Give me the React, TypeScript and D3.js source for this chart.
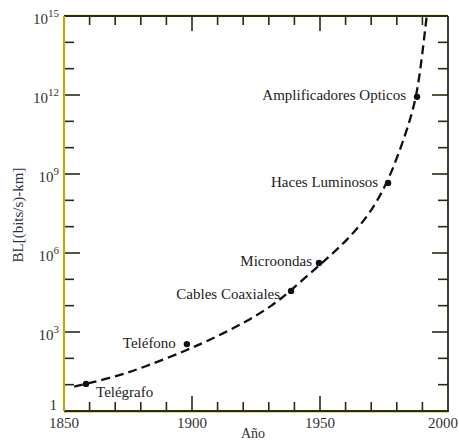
import React from "react";
import * as d3 from "d3";

const curveYears = [1854, 1868, 1881, 1897.9, 1909.6, 1921.4, 1931.8, 1938.3, 1948.7, 1956.5, 1963, 1969.5, 1976, 1981.3, 1985.2, 1987.8, 1989.7, 1991.2, 1991.7];
const curveExps = [0.93, 1.24, 1.65, 2.3, 2.82, 3.4, 4.03, 4.55, 5.45, 6.11, 6.75, 7.5, 8.6, 9.91, 11.05, 12, 13.33, 14.6, 15];

const pointNames = ["Telégrafo", "Teléfono", "Cables Coaxiales", "Microondas", "Haces Luminosos", "Amplificadores Opticos"];
const pointYears = [1858.6, 1898, 1938.7, 1949.6, 1976.6, 1987.9];
const pointExps = [1.03, 2.54, 4.56, 5.62, 8.66, 11.93];
const labelSide = ["right", "left", "left", "left", "left", "left"];
const labelGap = [10, 11, 11, 7, 10, 11];
const labelDy = [13, 4, 8, 3, 4, 3];

const xTicks = [1850, 1900, 1950, 2000];
const yTickExps = [0, 3, 6, 9, 12, 15];

const W = 459, H = 443;
const L = 64, R = 448, T = 16, B = 411;

export default function App() {
  const x = d3.scaleLinear().domain([1850, 2000]).range([L, R]);
  const y = d3.scaleLinear().domain([0, 15]).range([B, T]);
  const line = d3.line<number>()
    .x((_, i) => x(curveYears[i]))
    .y((d) => y(d))
    .curve(d3.curveBasis);
  const minorX = d3.range(1850, 2001, 10);
  const minorY = d3.range(0, 16, 1);
  const font = "'Liberation Serif', 'Times New Roman', serif";
  const axisDark = "#2b2a14";
  return (
    <svg width={W} height={H} style={{ position: "absolute", left: 0, top: 0, background: "#fff" }} fontFamily={font}>
      {minorX.map((v) => {
        const major = v % 50 === 0;
        const len = major ? 15 : 9;
        if (v === 1850 || v === 2000) return null;
        return (
          <g key={"xt" + v} stroke={axisDark} strokeWidth={1.6}>
            <line x1={x(v)} x2={x(v)} y1={B} y2={B - len} />
            <line x1={x(v)} x2={x(v)} y1={T} y2={T + len} />
          </g>
        );
      })}
      {minorY.map((v) => {
        const major = v % 3 === 0;
        const len = major ? 16 : 10;
        if (v === 0 || v === 15) return null;
        return (
          <g key={"yt" + v} stroke={axisDark} strokeWidth={1.6}>
            <line x1={L} x2={L + len} y1={y(v)} y2={y(v)} />
            <line x1={R} x2={R - len} y1={y(v)} y2={y(v)} />
          </g>
        );
      })}
      <line x1={L} x2={R} y1={T - 1} y2={T - 1} stroke="#e6e27a" strokeWidth={1} />
      <line x1={L} x2={R} y1={T} y2={T} stroke={axisDark} strokeWidth={1.8} />
      <line x1={L} x2={R + 1} y1={B} y2={B} stroke={axisDark} strokeWidth={1.8} />
      <line x1={L} x2={R} y1={B + 1.5} y2={B + 1.5} stroke="#dedc70" strokeWidth={1} />
      <line x1={R} x2={R} y1={T} y2={B} stroke={axisDark} strokeWidth={1.8} />
      <line x1={L} x2={L} y1={T} y2={B} stroke="#b3ad12" strokeWidth={2.2} />

      <path d={line(curveExps) || ""} fill="none" stroke="#111" strokeWidth={2.3} strokeDasharray="9 5" />

      {pointYears.map((yr, i) => (
        <g key={"p" + i}>
          <circle cx={x(yr)} cy={y(pointExps[i])} r={3.2} fill="#111" />
          <text
            x={labelSide[i] === "right" ? x(yr) + labelGap[i] : x(yr) - labelGap[i]}
            y={y(pointExps[i]) + labelDy[i]}
            textAnchor={labelSide[i] === "right" ? "start" : "end"}
            fontSize={15}
            fill="#222"
          >
            {pointNames[i]}
          </text>
        </g>
      ))}

      {xTicks.map((v, i) => (
        <text
          key={"xl" + v}
          x={i === xTicks.length - 1 ? W - 1 : x(v)}
          y={B + 17}
          textAnchor={i === xTicks.length - 1 ? "end" : "middle"}
          fontSize={15}
          fill="#333"
        >
          {v}
        </text>
      ))}
      {yTickExps.map((e) =>
        e === 0 ? (
          <text key="yl0" x={57} y={y(0) - 1} textAnchor="end" fontSize={15} fill="#333">1</text>
        ) : (
          <text key={"yl" + e} x={L - 5} y={y(e) + 8} textAnchor="end" fontSize={15} fill="#333">
            10
            <tspan dy={-7} fontSize={11}>{e}</tspan>
          </text>
        )
      )}
      <text x={253} y={438} textAnchor="middle" fontSize={14} fill="#333">Año</text>
      <text transform={`translate(23,215) rotate(-90)`} textAnchor="middle" fontSize={15} fill="#2a3040">
        BL[(bits/s)-km]
      </text>
    </svg>
  );
}
